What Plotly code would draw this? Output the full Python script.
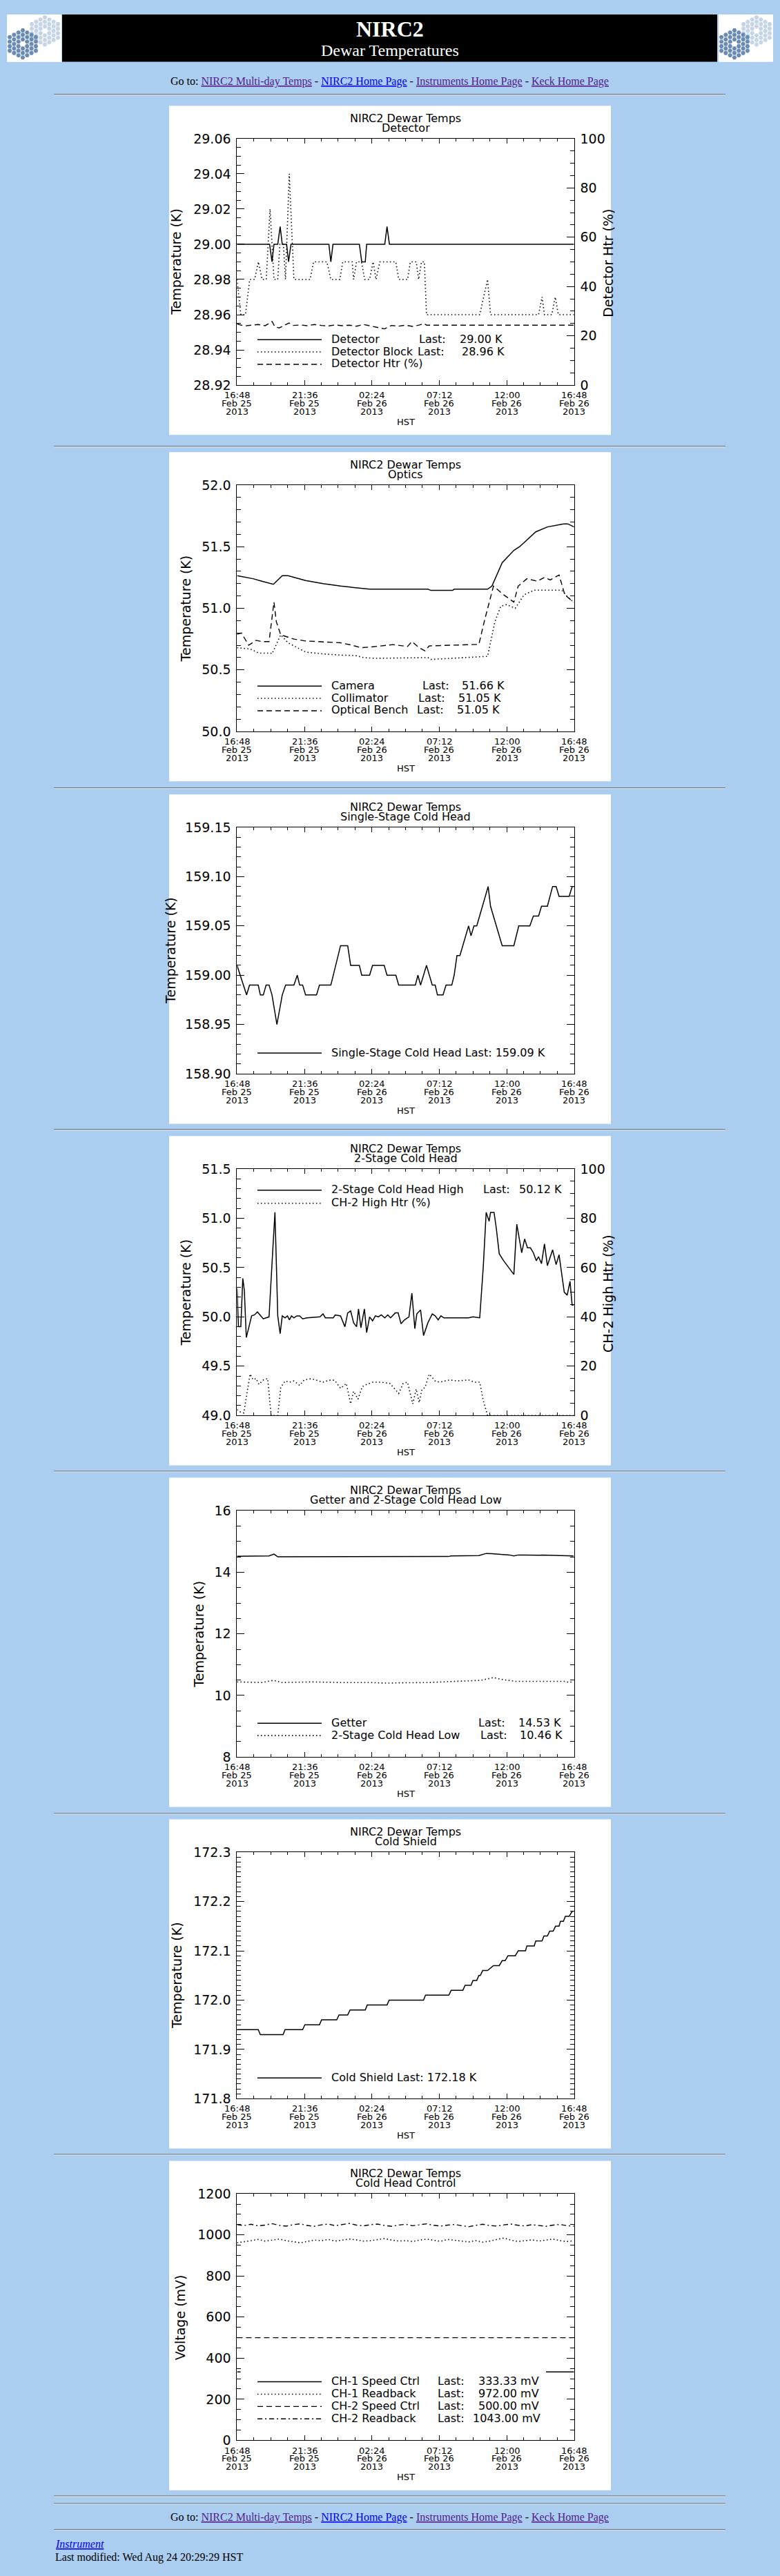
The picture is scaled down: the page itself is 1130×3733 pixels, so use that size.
import plotly.graph_objects as go

W, H = 1130, 3733
BG = '#ABCDEF'
SANS = 'DejaVu Sans'
SERIF = 'Liberation Serif'

# ---------------- data (hours after 16:48 Feb 25 2013 HST) ----------------
x_tick_hours = [0, 4.8, 9.6, 14.4, 19.2, 24.0]
x_tick_time = ['16:48', '21:36', '02:24', '07:12', '12:00', '16:48']
x_tick_day = ['Feb 25', 'Feb 25', 'Feb 26', 'Feb 26', 'Feb 26', 'Feb 26']
x_tick_year = ['2013', '2013', '2013', '2013', '2013', '2013']

# Chart 1: Detector
det_hr = [0, 2.32, 2.49, 2.63, 2.90, 3.07, 3.22, 3.53, 3.67, 3.84, 6.54, 6.68, 6.83,
          8.71, 8.88, 9.13, 9.23, 10.52, 10.68, 10.85, 24]
det_T = [29.00, 29.00, 28.99, 29.00, 29.00, 29.01, 29.00, 29.00, 28.99, 29.00, 29.00, 28.99, 29.00,
         29.00, 28.99, 28.99, 29.00, 29.00, 29.01, 29.00, 29.00]
blk_hr = [0, 0.27, 0.6, 0.9, 1.25, 1.52, 1.78, 2.08, 2.35, 2.63, 2.90, 3.05, 3.30, 3.45, 3.72, 4.05,
          5.2, 5.45, 6.4, 6.68, 7.32, 7.53, 8.2, 8.3, 8.51, 8.86, 9.09, 9.44, 9.69, 9.9, 10.17,
          11.31, 11.51, 12.14, 12.34, 12.76, 12.93, 13.13, 13.34, 13.49, 17.28, 17.84, 18.05,
          21.47, 21.72, 21.89, 22.41, 22.66, 22.88, 24]
blk_T = [28.98, 28.96, 28.96, 28.98, 28.98, 28.99, 28.98, 28.98, 29.02, 28.98, 28.98, 29.00, 29.00, 28.98, 29.04, 28.98,
         28.98, 28.99, 28.99, 28.98, 28.98, 28.99, 28.99, 28.98, 28.99, 28.99, 28.98, 28.98, 28.99, 28.98, 28.99,
         28.99, 28.98, 28.98, 28.99, 28.99, 28.98, 28.99, 28.99, 28.96, 28.96, 28.98, 28.96,
         28.96, 28.97, 28.96, 28.96, 28.97, 28.96, 28.96]
htr_hr = [0, 0.5, 1, 1.5, 2, 2.5, 2.7, 3, 3.3, 3.7, 4, 4.5, 5, 5.5, 6, 6.5, 7, 7.5, 8, 8.5, 9,
          9.5, 10, 10.5, 11, 11.5, 12, 12.5, 13, 13.3, 13.5, 24]
htr_pct = [24.8, 24.0, 24.3, 24.6, 24.1, 25.8, 23.6, 23.2, 24.0, 25.2, 24.2, 24.4, 24.1, 24.6, 24.2, 24.0,
           24.4, 24.1, 24.3, 23.9, 24.6, 24.0, 23.5, 22.8, 24.2, 23.9, 24.3, 23.8, 24.4, 25.0, 24.3, 24.3]

# Chart 2: Optics
cam_hr = [0, 1.14, 1.76, 2.59, 3.22, 3.63, 4.88, 6.12, 7.37, 8.20, 9.44, 13.59, 13.80, 15.35, 15.46,
          17.84, 18.15, 18.88, 19.71, 20.12, 21.27, 22.10, 22.51, 23.24, 23.55, 24.0]
cam_T = [51.265, 51.24, 51.22, 51.195, 51.265, 51.265, 51.225, 51.20, 51.18, 51.17, 51.155, 51.155, 51.145,
         51.145, 51.155, 51.155, 51.18, 51.37, 51.47, 51.50, 51.62, 51.66, 51.67, 51.685, 51.685, 51.66]
col_hr = [0, 0.93, 1.56, 2.39, 2.49, 3.11, 3.63, 4.88, 6.12, 7.37, 8.40, 9.02, 9.85, 13.59, 13.80, 15.46,
          17.84, 18.36, 18.78, 19.19, 19.81, 20.44, 21.16, 23.13, 23.55, 23.96]
col_T = [50.68, 50.67, 50.636, 50.636, 50.63, 50.785, 50.72, 50.645, 50.63, 50.62, 50.617, 50.60, 50.594,
         50.60, 50.585, 50.594, 50.61, 50.89, 51.017, 51.03, 51.0, 51.11, 51.147, 51.147, 51.09, 51.05]
ob_hr = [0, 0.31, 0.83, 1.35, 1.76, 2.28, 2.63, 2.80, 3.11, 4.05, 4.88, 7.37, 8.20, 8.82, 9.44, 11.10,
         12.14, 12.45, 12.97, 13.38, 13.69, 17.22, 17.63, 18.26, 18.98, 19.71, 20.02, 20.64, 21.37, 21.89,
         22.30, 22.93, 23.34, 23.96]
ob_T = [50.79, 50.80, 50.70, 50.74, 50.73, 50.73, 51.05, 50.89, 50.785, 50.75, 50.735, 50.72, 50.70, 50.68,
        50.685, 50.705, 50.69, 50.73, 50.68, 50.655, 50.695, 50.707, 50.905, 51.18, 51.11, 51.05, 51.18,
        51.24, 51.22, 51.25, 51.23, 51.27, 51.11, 51.05]

# Chart 3: Single-Stage Cold Head
ss_hr = [0, 0.68, 0.89, 1.51, 1.66, 1.87, 2.07, 2.28, 2.49, 2.84, 3.22, 3.46, 4.05, 4.29, 4.46, 4.67, 4.88,
         5.66, 5.87, 6.68, 7.37, 7.88, 8.09, 8.71, 8.88, 9.44, 9.65, 10.48, 10.68, 11.31, 11.51, 12.70,
         12.88, 13.07, 13.49, 13.90, 14.11, 14.27, 14.67, 14.88, 15.29, 15.46, 15.66, 15.87, 16.49, 16.66,
         16.87, 17.07, 17.88, 18.05, 18.88, 19.71, 20.06, 20.85, 21.10, 21.47, 21.68, 22.10, 22.47, 22.72,
         22.93, 23.65, 23.86, 24.0]
ss_T = [159.01, 158.98, 158.99, 158.99, 158.98, 158.98, 158.99, 158.99, 158.98, 158.95, 158.98, 158.99,
        158.99, 159.00, 158.99, 158.99, 158.98, 158.98, 158.99, 158.99, 159.03, 159.03, 159.01, 159.01,
        159.00, 159.00, 159.01, 159.01, 159.00, 159.00, 158.99, 158.99, 159.00, 158.99, 159.01, 158.99,
        158.99, 158.98, 158.98, 158.99, 158.99, 159.00, 159.02, 159.02, 159.05, 159.04, 159.05, 159.05,
        159.09, 159.07, 159.03, 159.03, 159.05, 159.05, 159.06, 159.06, 159.07, 159.07, 159.09, 159.09,
        159.08, 159.08, 159.09, 159.09]

# Chart 4: 2-Stage Cold Head
ch_hr = [0, 0.10, 0.27, 0.41, 0.52, 0.66, 1.04, 1.24, 1.45, 1.87, 2.07, 2.28, 2.49, 2.70, 2.80, 2.90,
         3.07, 3.22, 3.42, 3.59, 3.73, 3.88, 4.05, 4.25, 4.46, 4.67, 4.98, 5.91, 6.12, 6.29, 6.85, 6.99,
         7.37, 7.68, 7.88, 8.09, 8.30, 8.51, 8.65, 8.82, 9.07, 9.23, 9.44, 9.65, 9.85, 10.06, 10.27,
         10.52, 10.73, 10.93, 11.27, 11.47, 11.68, 11.93, 12.24, 12.45, 12.66, 12.80, 13.07, 13.28,
         13.59, 13.90, 14.11, 14.32, 14.52, 14.73, 16.49, 16.80, 17.28, 17.53, 17.74, 17.95, 18.05,
         18.30, 18.46, 18.67, 18.98, 19.71, 19.92, 20.12, 20.27, 20.48, 20.68, 20.89, 21.10, 21.31,
         21.47, 21.68, 21.89, 22.10, 22.47, 22.72, 22.93, 23.30, 23.51, 23.71, 23.86, 23.96]
ch_T = [50.29, 49.90, 49.90, 50.39, 50.27, 49.79, 50.01, 50.02, 50.05, 49.98, 49.99, 50.00, 50.54, 51.06,
        50.54, 50.01, 49.83, 50.01, 49.99, 50.01, 49.97, 50.01, 49.99, 50.01, 50.01, 49.98, 49.99, 50.00,
        50.03, 49.99, 49.99, 50.02, 50.01, 49.90, 50.04, 50.06, 49.94, 49.90, 50.08, 49.89, 50.08, 49.84,
        50.00, 49.96, 50.01, 50.00, 50.02, 49.99, 50.02, 49.99, 50.04, 50.04, 49.93, 49.97, 50.00, 50.24,
        49.88, 50.03, 50.07, 49.81, 49.94, 50.03, 50.01, 49.97, 50.01, 49.99, 49.99, 50.00, 49.99, 50.50,
        51.06, 50.97, 51.06, 51.06, 50.90, 50.64, 50.57, 50.43, 50.94, 50.76, 50.65, 50.79, 50.70, 50.70,
        50.65, 50.57, 50.61, 50.54, 50.74, 50.52, 50.68, 50.53, 50.63, 50.25, 50.22, 50.36, 50.12, 50.12]
chh_hr = [0, 0.21, 0.48, 0.93, 1.14, 1.35, 1.56, 1.87, 2.18, 2.43, 2.90, 3.11, 3.42, 3.73, 4.05, 4.46,
          4.77, 5.29, 6.12, 6.54, 6.95, 7.37, 7.78, 8.09, 8.30, 8.61, 8.92, 9.23, 9.65, 10.27, 10.89,
          11.51, 11.83, 12.14, 12.51, 12.76, 12.97, 13.17, 13.38, 13.69, 14.11, 14.42, 15.15, 15.66,
          16.49, 16.91, 17.28, 17.53, 17.84, 24.0]
chh_pct = [2.4, 1.5, 1.0, 16.8, 14.5, 15.0, 12.6, 14.4, 15.0, 0.0, 0.0, 11.3, 14.0, 13.5, 14.0, 12.2,
           14.4, 14.9, 13.5, 14.3, 14.3, 11.0, 13.0, 4.7, 9.8, 6.6, 11.7, 12.6, 13.5, 13.5, 13.0,
           8.9, 13.0, 13.5, 4.7, 10.7, 5.2, 10.7, 11.3, 16.8, 14.0, 13.5, 14.4, 14.0,
           14.4, 13.5, 13.5, 6.1, 0.0, 0.0]

# Chart 5: Getter and 2-Stage Cold Head Low
get_hr = [0, 0.62, 2.28, 2.63, 2.90, 15.04, 15.25, 17.22, 17.74, 18.15, 19.40, 19.71, 20.02, 21.47,
          21.78, 23.03, 23.96]
get_T = [14.52, 14.52, 14.53, 14.59, 14.50, 14.51, 14.53, 14.54, 14.61, 14.60, 14.56, 14.53, 14.56, 14.55,
         14.56, 14.54, 14.53]
low_hr = [0, 1.76, 2.59, 3.22, 5.29, 7.37, 9.44, 10.68, 11.51, 13.59, 15.66, 17.32, 18.26, 18.98, 19.81,
          21.89, 23.34, 23.65, 23.96]
low_T = [10.44, 10.42, 10.49, 10.42, 10.44, 10.42, 10.42, 10.40, 10.41, 10.42, 10.46, 10.49, 10.58, 10.51,
         10.46, 10.46, 10.46, 10.42, 10.46]

# Chart 6: Cold Shield (step readings)
cs_hr = [0, 1.51, 1.66, 3.28, 3.42, 4.67, 4.83, 5.87, 6.02, 7.10, 7.26, 7.88, 8.05, 9.13, 9.27, 10.68,
         10.83, 13.28, 13.42, 15.08, 15.25, 16.08, 16.24, 16.66, 16.80, 17.07, 17.22, 17.32, 17.49, 17.84,
         18.26, 18.67, 18.88, 19.09, 19.29, 19.81, 20.02, 20.54, 20.64, 21.16, 21.27, 21.72, 21.85, 22.10,
         22.26, 22.51, 22.68, 22.93, 23.03, 23.24, 23.38, 23.65, 23.86, 23.96]
cs_T = [171.94, 171.94, 171.93, 171.93, 171.94, 171.94, 171.95, 171.95, 171.96, 171.96, 171.97, 171.97,
        171.98, 171.98, 171.99, 171.99, 172.00, 172.00, 172.01, 172.01, 172.02, 172.02, 172.03, 172.03,
        172.04, 172.04, 172.05, 172.05, 172.06, 172.06, 172.07, 172.07, 172.08, 172.08, 172.09, 172.09,
        172.10, 172.10, 172.11, 172.11, 172.12, 172.12, 172.13, 172.13, 172.14, 172.14, 172.15, 172.15,
        172.16, 172.16, 172.17, 172.17, 172.18, 172.18]

# Chart 7: Cold Head Control
s1_hr = [0, 0.25, None, 22.0, 24.0]
s1_mV = [333.33, 333.33, None, 333.33, 333.33]
r1_mV = [962, 966, 972, 978, 970, 975, 980, 972, 966, 962, 968, 975, 972, 978, 970, 975, 980, 976, 970,
         972, 978, 982, 975, 970, 972, 968, 975, 980, 974, 969, 978, 975, 970, 966, 972, 965, 970, 978,
         985, 975, 968, 972, 976, 970, 975, 980, 972, 968, 972]
s2_hr = [0, 24.0]
s2_mV = [500.0, 500.0]
r2_mV = [1050, 1046, 1052, 1044, 1048, 1055, 1047, 1043, 1050, 1054, 1046, 1042, 1049, 1053, 1045, 1051,
         1056, 1048, 1044, 1050, 1053, 1046, 1042, 1048, 1052, 1045, 1049, 1054, 1047, 1043, 1048, 1051,
         1045, 1040, 1047, 1052, 1046, 1043, 1049, 1053, 1047, 1044, 1050, 1046, 1042, 1048, 1051, 1045, 1043]
r_hr = [0.5 * i for i in range(len(r1_mV))]

# ---------------- page geometry ----------------
def X(p):
    return p / W


def Y(p):
    return 1 - p / H


CH_L, CH_W, CH_H = 245, 640, 480
PL, PR, PT, PB = 98.4, 586.7, 48.0, 407.3
tops = [143, 648, 1147, 1645, 2143, 2641, 3139]
hr_lines = [126, 639, 1137, 1635, 2133, 2632, 3129, 3627, 3638, 3676]

DASH = {'solid': 'solid', 'dot': '1.5px,3.5px', 'dash': '8px,5px', 'dashdot': '7px,4px,2px,4px'}
LW = {'solid': 1.5, 'dot': 1.6, 'dash': 1.4, 'dashdot': 1.4}

charts = [
    dict(sub='Detector', yr=[28.92, 29.06], dt=0.02, mdt=0.005, fmt='.2f', yt='Temperature (K)', ytx=10,
         right=dict(yr=[0, 100], dt=20, mdt=5, fmt='d', yt='Detector Htr (%)', ytx=636),
         traces=[(det_hr, det_T, 'solid', 'L'), (blk_hr, blk_T, 'dot', 'L'), (htr_hr, htr_pct, 'dash', 'R')],
         legend=[(340, 'solid', [('Detector', 233, 'left'), ('Last:', 360, 'left'), ('29.00 K', 419, 'left')]),
                 (358, 'dot', [('Detector Block', 233, 'left'), ('Last:', 358, 'left'), ('28.96 K', 422, 'left')]),
                 (376, 'dash', [('Detector Htr (%)', 233, 'left')])]),
    dict(sub='Optics', yr=[50.0, 52.0], dt=0.5, mdt=0.1, fmt='.1f', yt='Temperature (K)', ytx=23.6, right=None,
         traces=[(cam_hr, cam_T, 'solid', 'L'), (col_hr, col_T, 'dot', 'L'), (ob_hr, ob_T, 'dash', 'L')],
         legend=[(340, 'solid', [('Camera', 233, 'left'), ('Last:', 365, 'left'), ('51.66 K', 422, 'left')]),
                 (358, 'dot', [('Collimator', 233, 'left'), ('Last:', 359, 'left'), ('51.05 K', 417, 'left')]),
                 (376, 'dash', [('Optical Bench', 233, 'left'), ('Last:', 357, 'left'), ('51.05 K', 415, 'left')])]),
    dict(sub='Single-Stage Cold Head', yr=[158.90, 159.15], dt=0.05, mdt=0.01, fmt='.2f', yt='Temperature (K)',
         ytx=2, right=None,
         traces=[(ss_hr, ss_T, 'solid', 'L')],
         legend=[(376, 'solid', [('Single-Stage Cold Head Last: 159.09 K', 233, 'left')])]),
    dict(sub='2-Stage Cold Head', yr=[49.0, 51.5], dt=0.5, mdt=0.1, fmt='.1f', yt='Temperature (K)', ytx=23.6,
         right=dict(yr=[0, 100], dt=20, mdt=5, fmt='d', yt='CH-2 High Htr (%)', ytx=636),
         traces=[(ch_hr, ch_T, 'solid', 'L'), (chh_hr, chh_pct, 'dot', 'R')],
         legend=[(78, 'solid', [('2-Stage Cold Head High', 233, 'left'), ('Last:', 453, 'left'),
                                ('50.12 K', 505, 'left')]),
                 (97, 'dot', [('CH-2 High Htr (%)', 233, 'left')])]),
    dict(sub='Getter and 2-Stage Cold Head Low', yr=[8, 16], dt=2, mdt=0.5, fmt='d', yt='Temperature (K)',
         ytx=42.6, right=None,
         traces=[(get_hr, get_T, 'solid', 'L'), (low_hr, low_T, 'dot', 'L')],
         legend=[(357, 'solid', [('Getter', 233, 'left'), ('Last:', 446, 'left'), ('14.53 K', 504, 'left')]),
                 (375, 'dot', [('2-Stage Cold Head Low', 233, 'left'), ('Last:', 449, 'left'),
                               ('10.46 K', 506, 'left')])]),
    dict(sub='Cold Shield', yr=[171.8, 172.3], dt=0.1, mdt=0.01, fmt='.1f', yt='Temperature (K)', ytx=11,
         right=None,
         traces=[(cs_hr, cs_T, 'solid', 'L')],
         legend=[(376, 'solid', [('Cold Shield Last: 172.18 K', 233, 'left')])]),
    dict(sub='Cold Head Control', yr=[0, 1200], dt=200, mdt=50, fmt='d', yt='Voltage (mV)', ytx=16, right=None,
         traces=[(s1_hr, s1_mV, 'solid', 'L'), (r_hr, r1_mV, 'dot', 'L'), (s2_hr, s2_mV, 'dash', 'L'),
                 (r_hr, r2_mV, 'dashdot', 'L')],
         legend=[(321, 'solid', [('CH-1 Speed Ctrl', 233, 'left'), ('Last:', 387, 'left'), ('333.33 mV', 538, 'right')]),
                 (339, 'dot', [('CH-1 Readback', 233, 'left'), ('Last:', 387, 'left'), ('972.00 mV', 538, 'right')]),
                 (357, 'dash', [('CH-2 Speed Ctrl', 233, 'left'), ('Last:', 387, 'left'), ('500.00 mV', 538, 'right')]),
                 (375, 'dashdot', [('CH-2 Readback', 233, 'left'), ('Last:', 387, 'left'), ('1043.00 mV', 540, 'right')])]),
]

fig = go.Figure()
shapes = []
annotations = []
layout = {}


def ann(x, y, text, size, family=SANS, color='black', xanchor='center', yanchor='middle', **kw):
    d = dict(x=x, y=y, xref=kw.pop('xref', 'paper'), yref='paper', text=text, showarrow=False,
             font=dict(family=family, size=size, color=color), xanchor=xanchor, yanchor=yanchor)
    d.update(kw)
    annotations.append(d)


def rect(x0, y0, x1, y1, color, layer='below'):
    shapes.append(dict(type='rect', xref='paper', yref='paper', x0=X(x0), x1=X(x1), y0=Y(y1), y1=Y(y0),
                       fillcolor=color, line=dict(width=0), layer=layer))


# page header
rect(10, 10, 89, 79, 'white')
rect(1041, 10, 1119, 79, 'white')
rect(90, 10, 1039, 79, 'black')
ann(X(564.5), Y(31), '<b>NIRC2</b>', 32, family=SERIF, color='white')
ann(X(564.5), Y(62), 'Dewar Temperatures', 24, family=SERIF, color='white')

VIS = '#551A8B'
LINK = '#0000EE'
goto = ('Go to: <span style="color:%s"><u>NIRC2 Multi-day Temps</u></span> - '
        '<span style="color:%s"><u>NIRC2 Home Page</u></span> - '
        '<span style="color:%s"><u>Instruments Home Page</u></span> - '
        '<span style="color:%s"><u>Keck Home Page</u></span>') % (VIS, LINK, VIS, VIS)
ann(X(564.5), Y(108), goto, 16, family=SERIF)
ann(X(564.5), Y(3659), goto, 16, family=SERIF)
ann(X(78), Y(3697), '<i><u>Instrument</u></i>', 16, family=SERIF, color=LINK, xanchor='left')
ann(X(78), Y(3717), 'Last modified: Wed Aug 24 20:29:29 HST', 16, family=SERIF, xanchor='left')

for yy in hr_lines:
    rect(78, yy, 1051, yy + 1, '#5A5A5A')
    rect(78, yy + 1, 1051, yy + 2, '#E6E6E6')

# logos (Keck segmented mirrors)
logo_boxes = [(10, 10), (1041, 10)]
mirror_centers = [((55, 24), '#C6D5E6'), ((23, 43), '#6A8CB4')]
hex_axial = [(q, r) for q in range(-3, 4) for r in range(-3, 4)
             if max(abs(q), abs(r), abs(q + r)) <= 3 and (q, r) != (0, 0)]
for k, (bx, by) in enumerate(logo_boxes):
    xa = 8 + k
    ya = 10 + k
    layout['xaxis%d' % xa] = dict(domain=[X(bx), X(bx + 79)], range=[0, 79], visible=False,
                                  anchor='y%d' % ya, fixedrange=True)
    layout['yaxis%d' % ya] = dict(domain=[Y(by + 69), Y(by)], range=[69, 0], visible=False,
                                  anchor='x%d' % xa, fixedrange=True)
    for (cx, cy), col in mirror_centers:
        fig.add_trace(go.Scatter(
            x=[cx + 6.3 * q for q, r in hex_axial],
            y=[cy + 6.6 * (r + q / 2) for q, r in hex_axial],
            mode='markers', marker=dict(symbol='hexagon2', size=6.8, color=col, line=dict(width=0)),
            xaxis='x%d' % xa, yaxis='y%d' % ya, hoverinfo='skip', showlegend=False))

axis_font = dict(family=SANS, size=19, color='black')

right_idx = 8
for i, c in enumerate(charts):
    n = i + 1
    T = tops[i]
    xn = 'x' if n == 1 else 'x%d' % n
    yn = 'y' if n == 1 else 'y%d' % n
    rect(CH_L, T, CH_L + CH_W, T + CH_H, 'white')
    has_right = c['right'] is not None
    layout['xaxis' if n == 1 else 'xaxis%d' % n] = dict(
        domain=[X(CH_L + PL), X(CH_L + PR)], anchor=yn, range=[0, 24],
        showline=True, linecolor='black', linewidth=1, mirror='ticks',
        tickmode='linear', tick0=0, dtick=4.8, ticks='inside', ticklen=7, tickwidth=1, tickcolor='black',
        showticklabels=False, showgrid=False, zeroline=False, fixedrange=True,
        minor=dict(tickmode='linear', tick0=0, dtick=1.2, ticks='inside', ticklen=4, tickwidth=1,
                   tickcolor='black', showgrid=False))
    layout['yaxis' if n == 1 else 'yaxis%d' % n] = dict(
        domain=[Y(T + PB), Y(T + PT)], anchor=xn, range=c['yr'],
        showline=True, linecolor='black', linewidth=1, mirror=False if has_right else 'ticks',
        tickmode='linear', tick0=c['yr'][0], dtick=c['dt'], tickformat=c['fmt'],
        ticks='inside', ticklen=11, tickwidth=1, tickcolor='black', tickfont=axis_font,
        ticklabelstandoff=4, showgrid=False, zeroline=False, fixedrange=True,
        minor=dict(tickmode='linear', tick0=c['yr'][0], dtick=c['mdt'], ticks='inside', ticklen=6,
                   tickwidth=1, tickcolor='black', showgrid=False))
    ryn = None
    if has_right:
        r = c['right']
        ryn = 'y%d' % right_idx
        layout['yaxis%d' % right_idx] = dict(
            overlaying=yn, anchor=xn, side='right', range=r['yr'],
            showline=True, linecolor='black', linewidth=1,
            tickmode='linear', tick0=0, dtick=r['dt'], tickformat=r['fmt'],
            ticks='inside', ticklen=11, tickwidth=1, tickcolor='black', tickfont=axis_font,
            ticklabelstandoff=4, showgrid=False, zeroline=False, fixedrange=True,
            minor=dict(tickmode='linear', tick0=0, dtick=r['mdt'], ticks='inside', ticklen=6,
                       tickwidth=1, tickcolor='black', showgrid=False))
        right_idx += 1
        ann(X(CH_L + r['ytx']), Y(T + 230), r['yt'], 19, textangle=-90)

    for xs, ys, style, side in c['traces']:
        fig.add_trace(go.Scatter(
            x=xs, y=ys, mode='lines', line=dict(color='black', width=LW[style], dash=DASH[style]),
            xaxis=xn, yaxis=(ryn if side == 'R' else yn), connectgaps=False,
            hoverinfo='skip', showlegend=False))

    # titles
    ann(X(CH_L + 342.5), Y(T + 18), 'NIRC2 Dewar Temps', 16)
    ann(X(CH_L + 342.5), Y(T + 32.5), c['sub'], 16)
    ann(X(CH_L + c['ytx']), Y(T + 228), c['yt'], 19, textangle=-90)
    ann(X(CH_L + 342.5), Y(T + 461), 'HST', 13)
    # x tick labels (three lines)
    for tv, t1, t2, t3 in zip(x_tick_hours, x_tick_time, x_tick_day, x_tick_year):
        for line_y, txt in ((422, t1), (434, t2), (446, t3)):
            ann(tv, Y(T + line_y), txt, 13, xref=xn)
    # legend
    for row_y, style, items in c['legend']:
        shapes.append(dict(type='line', xref='paper', yref='paper', x0=X(CH_L + 128), x1=X(CH_L + 221),
                           y0=Y(T + row_y + 1), y1=Y(T + row_y + 1),
                           line=dict(color='black', width=LW[style], dash=DASH[style]), layer='above'))
        for txt, tx, anc in items:
            ann(X(CH_L + tx), Y(T + row_y), txt, 16, xanchor=anc)

fig.update_layout(
    width=W, height=H, margin=dict(l=0, r=0, t=0, b=0, pad=0),
    paper_bgcolor=BG, plot_bgcolor='white', showlegend=False,
    shapes=shapes, annotations=annotations, font=dict(family=SANS, color='black'),
    **layout)

fig.write_html('out.html', config={'displayModeBar': False, 'staticPlot': True},
               post_script="document.body.style.margin='0';document.body.style.background='%s';" % BG)
